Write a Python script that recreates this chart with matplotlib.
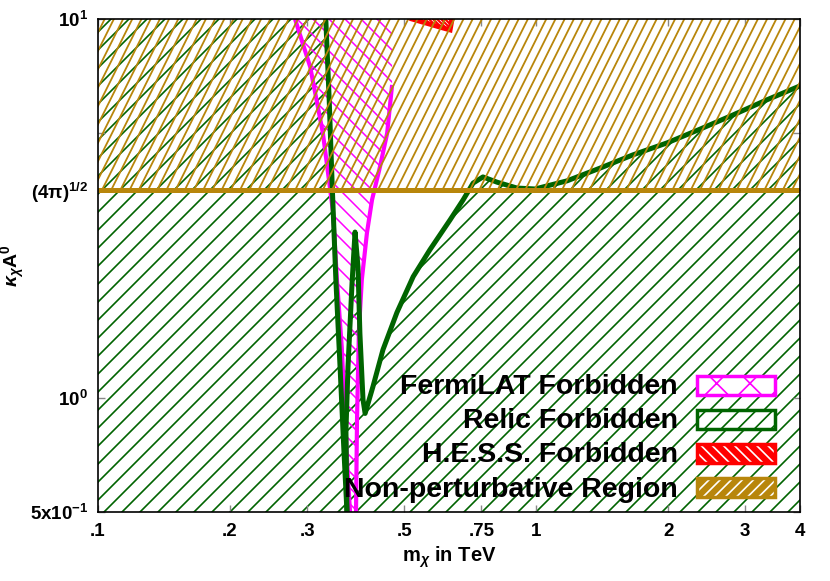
import numpy as np
import matplotlib
matplotlib.use("Agg")
import matplotlib.pyplot as plt
from matplotlib.patches import Polygon, Rectangle
from matplotlib.collections import LineCollection
from matplotlib.transforms import IdentityTransform
from matplotlib.ticker import NullLocator

# ---------------- data ----------------
pert_limit = np.sqrt(4 * np.pi)

relic_left_x = [0.331, 0.337, 0.342, 0.349, 0.357, 0.364, 0.370]
relic_left_y = [10.0, 6.12, 3.76, 2.05, 1.19, 0.73, 0.50]

relic_right_x = [0.370, 0.368, 0.372, 0.380, 0.386, 0.392, 0.396, 0.4025, 0.407,
                 0.424, 0.447, 0.481, 0.524, 0.572, 0.636, 0.681, 0.718, 0.756,
                 0.814, 0.904, 0.994, 1.176, 1.398, 1.663, 1.989, 2.365, 2.812,
                 3.362, 4.0]
relic_right_y = [0.50, 0.82, 1.21, 2.01, 2.74, 2.22, 1.48, 0.99, 0.91,
                 1.07, 1.34, 1.68, 2.09, 2.46, 2.95, 3.33, 3.69, 3.83,
                 3.71, 3.58, 3.56, 3.74, 4.04, 4.38, 4.71, 5.12, 5.58,
                 6.12, 6.66]

fermi_left_x = [0.2816, 0.305, 0.326, 0.335, 0.344, 0.351, 0.360, 0.366, 0.372, 0.376]
fermi_left_y = [10.0, 7.47, 5.0, 3.92, 3.08, 2.05, 1.36, 0.91, 0.61, 0.50]
fermi_right_x = [0.469, 0.469, 0.457, 0.440, 0.422, 0.411, 0.400, 0.394, 0.390, 0.388]
fermi_right_y = [10.0, 6.70, 5.0, 4.07, 3.33, 2.73, 2.05, 1.51, 0.87, 0.50]

hess_x = [0.521, 0.613, 0.636, 0.6425]
hess_y = [10.0, 9.47, 9.36, 10.0]

x_ticks = [0.1, 0.2, 0.3, 0.5, 0.75, 1, 2, 3, 4]
x_tick_labels = ['.1', '.2', '.3', '.5', '.75', '1', '2', '3', '4']
y_ticks = [0.5, 1.0, pert_limit, 5.0, 10.0]
y_tick_labels = [r'$\mathbf{5x10^{-1}}$', r'$\mathbf{10^{0}}$',
                 r'$\mathbf{(4\pi)^{1/2}}$', '', r'$\mathbf{10^{1}}$']

legend_labels = ['FermiLAT Forbidden', 'Relic Forbidden',
                 'H.E.S.S. Forbidden', 'Non-perturbative Region']

# ---------------- style ----------------
GREEN = '#006400'
MAGENTA = '#ff00ff'
RED = '#ff0000'
GOLD = '#b8860b'

plt.rcParams['font.family'] = ['Liberation Sans', 'DejaVu Sans']
plt.rcParams['font.weight'] = 'bold'
plt.rcParams['mathtext.fontset'] = 'custom'
plt.rcParams['mathtext.rm'] = 'Liberation Sans'
plt.rcParams['mathtext.it'] = 'Liberation Sans:italic'
plt.rcParams['mathtext.bf'] = 'Liberation Sans:bold'
plt.rcParams['hatch.linewidth'] = 1.2

W, H = 830, 581
AX_L, AX_R, AX_T, AX_B = 98, 800, 19, 512   # pixel box (top-origin)
fig = plt.figure(figsize=(W / 100, H / 100), dpi=100)
ax = fig.add_axes([AX_L / W, (H - AX_B) / H, (AX_R - AX_L) / W, (AX_B - AX_T) / H])
ax.set_xscale('log')
ax.set_yscale('log')
ax.set_xlim(0.1, 4)
ax.set_ylim(0.5, 10)


def hatch_lines(clip_patch, slope, spacing, color, lw, z):
    x0, x1 = AX_L, AX_R
    y0, y1 = H - AX_B, H - AX_T
    hgt = (y1 - y0) + 10
    shift = hgt / abs(slope)
    cs = np.arange(x0 - shift - spacing, x1 + shift + spacing, spacing)
    segs = [[(c, y0 - 5), (c + hgt / slope, y1 + 5)] for c in cs]
    lc = LineCollection(segs, colors=color, linewidths=lw,
                        transform=IdentityTransform(), zorder=z)
    lc.set_clip_path(clip_patch)
    lc.set_clip_box(ax.bbox)
    ax.add_collection(lc, autolim=False)


# relic forbidden region (outside the allowed band)
relic_poly = ([(0.1, 0.5), (0.1, 10.0)] + list(zip(relic_left_x, relic_left_y))
              + list(zip(relic_right_x, relic_right_y)) + [(4.0, 0.5)])
relic_patch = Polygon(relic_poly, closed=True, transform=ax.transData)
hatch_lines(relic_patch, 1.0, 18.0, GREEN, 1.2, 1)

# Fermi-LAT region
fermi_poly = list(zip(fermi_left_x, fermi_left_y)) + list(zip(fermi_right_x, fermi_right_y))[::-1]
fermi_patch = Polygon(fermi_poly, closed=True, transform=ax.transData)
hatch_lines(fermi_patch, -1.0, 16.0, MAGENTA, 1.1, 2)

ax.plot(fermi_left_x, fermi_left_y, color=MAGENTA, lw=3.0, zorder=3, solid_capstyle='butt')
ax.plot(fermi_right_x[1:], fermi_right_y[1:], color=MAGENTA, lw=3.0, zorder=3, solid_capstyle='butt')

# relic curve
ax.plot(relic_left_x, relic_left_y, color=GREEN, lw=3.6, zorder=4, solid_joinstyle='round')
ax.plot(relic_right_x, relic_right_y, color=GREEN, lw=3.6, zorder=4, solid_joinstyle='round')

# HESS region
hess_patch = Polygon(list(zip(hess_x, hess_y)), closed=True, transform=ax.transData)
hatch_lines(hess_patch, -1.0, 4.0, RED, 1.5, 5)
ax.plot(hess_x, hess_y, color=RED, lw=3.6, zorder=5, solid_joinstyle='miter')

# non-perturbative region
pert_patch = Polygon([(0.1, pert_limit), (4.0, pert_limit), (4.0, 10.0), (0.1, 10.0)],
                     closed=True, transform=ax.transData)
hatch_lines(pert_patch, 2.0, 9.2, GOLD, 1.3, 6)
ax.axhline(pert_limit, color=GOLD, lw=3.6, zorder=7)

# ---------------- axes ----------------
ax.set_xticks(x_ticks)
ax.set_xticklabels(x_tick_labels)
ax.set_yticks(y_ticks)
ax.set_yticklabels(y_tick_labels)
ax.xaxis.set_minor_locator(NullLocator())
ax.yaxis.set_minor_locator(NullLocator())
ax.tick_params(direction='in', length=5, width=1, color='#888888',
               top=True, right=True, labelsize=13.5)
ax.tick_params(axis='x', pad=8)
ax.tick_params(axis='y', pad=7)
for lab in ax.get_xticklabels() + ax.get_yticklabels():
    lab.set_fontweight('bold')
for sp in ax.spines.values():
    sp.set_linewidth(1.2)
    sp.set_zorder(10)

ax.set_xlabel(r'm$_{\chi}$ in TeV', fontsize=14.5, fontweight='bold', labelpad=3)
ax.set_ylabel(r'$\kappa_{\chi}$A$^{\mathbf{0}}$', fontsize=14, fontweight='bold')
ax.yaxis.set_label_coords((27 - AX_L) / (AX_R - AX_L), 0.5)

# ---------------- legend (drawn by hand, gnuplot style) ----------------
def fx(px):
    return px / W


def fy(py):
    return 1 - py / H


box_l, box_r = 697, 775
rows = [(376, 395, 394), (410, 429, 428), (444, 463, 462), (478, 497, 497)]
for i, (lab, (top, bot, base)) in enumerate(zip(legend_labels, rows)):
    fig.text(fx(678), fy(base), lab, ha='right', va='baseline',
             fontsize=20.5, fontweight='bold', zorder=20)
    rx, ry, rw, rh = fx(box_l), fy(bot), fx(box_r) - fx(box_l), fy(top) - fy(bot)
    if i == 0:
        ax.add_patch(Rectangle((rx, ry), rw, rh, transform=fig.transFigure, clip_on=False,
                               facecolor='white', edgecolor=MAGENTA, hatch='x', lw=2.5, zorder=20))
    elif i == 1:
        ax.add_patch(Rectangle((rx, ry), rw, rh, transform=fig.transFigure, clip_on=False,
                               facecolor='white', edgecolor=GREEN, hatch='//', lw=2.5, zorder=20))
    else:
        col = RED if i == 2 else GOLD
        hat = '\\\\\\' if i == 2 else '///'
        ax.add_patch(Rectangle((rx, ry), rw, rh, transform=fig.transFigure, clip_on=False,
                               facecolor=col, edgecolor='white', hatch=hat, lw=0, zorder=20))
        ax.add_patch(Rectangle((rx, ry), rw, rh, transform=fig.transFigure, clip_on=False,
                               facecolor='none', edgecolor=col, lw=2.5, zorder=21))

fig.savefig('out.png', dpi=100)
